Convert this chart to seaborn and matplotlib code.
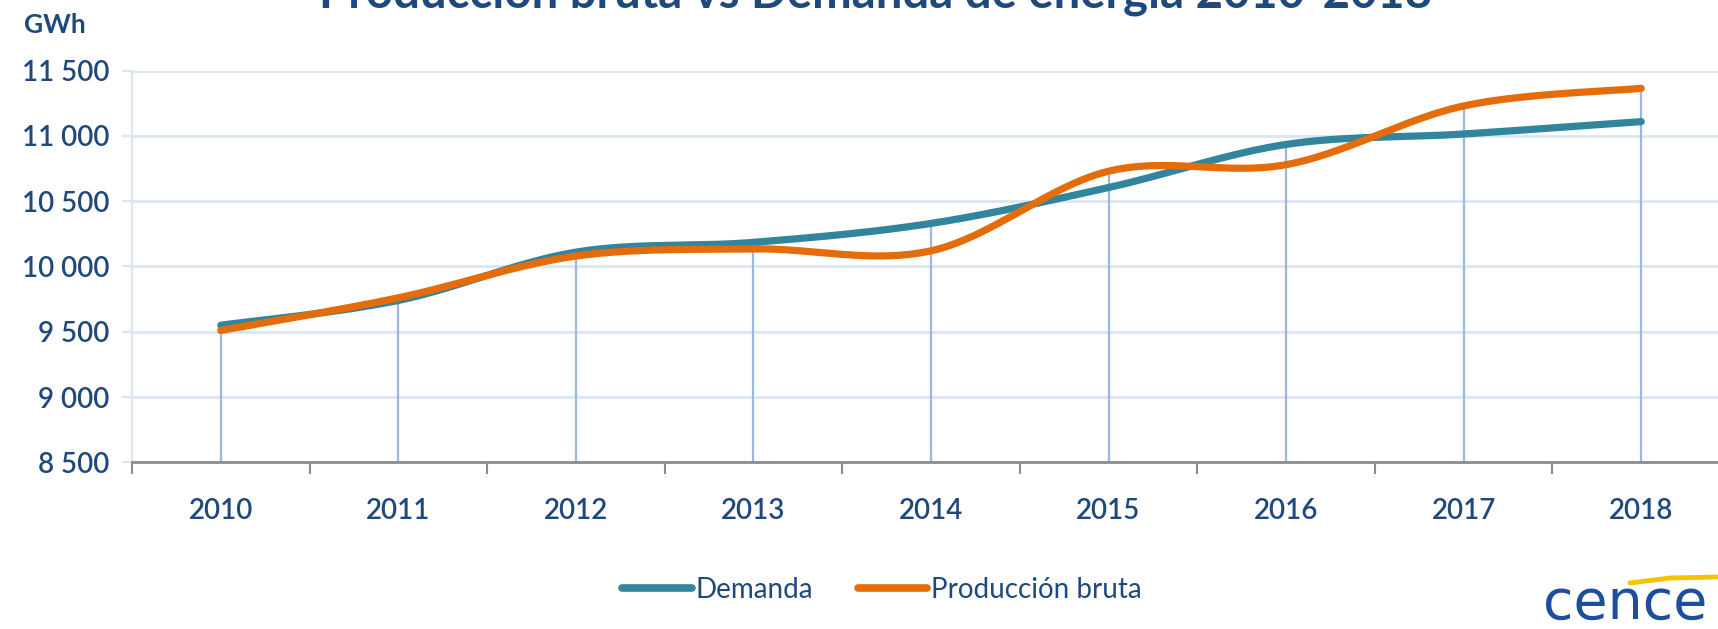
import numpy as np
import pandas as pd
import matplotlib
matplotlib.use("Agg")
import matplotlib.pyplot as plt
from matplotlib.lines import Line2D
from matplotlib.ticker import FuncFormatter
import seaborn as sns

years = ["2010", "2011", "2012", "2013", "2014", "2015", "2016", "2017", "2018"]
demanda = [9550, 9740, 10110, 10185, 10330, 10605, 10935, 11015, 11110]
produccion = [9510, 9760, 10080, 10135, 10120, 10730, 10780, 11230, 11365]
yticks = [8500, 9000, 9500, 10000, 10500, 11000, 11500]

TEXT = "#1F497D"
TEAL = "#31859C"
ORANGE = "#E46C0A"
GRID = "#DCE6F2"
DROP = "#9BB7DD"


def smooth(xv, yv, n=40):
    # Excel-like smoothed line (Catmull-Rom)
    p = np.column_stack([xv, yv]).astype(float)
    p = np.vstack([p[0], p, p[-1]])
    out = []
    t = np.linspace(0, 1, n)[:, None]
    for i in range(1, len(p) - 2):
        p0, p1, p2, p3 = p[i - 1], p[i], p[i + 1], p[i + 2]
        seg = 0.5 * (2 * p1 + (-p0 + p2) * t + (2 * p0 - 5 * p1 + 4 * p2 - p3) * t ** 2
                     + (-p0 + 3 * p1 - 3 * p2 + p3) * t ** 3)
        out.append(seg if i == 1 else seg[1:])
    out = np.vstack(out)
    return out[:, 0], out[:, 1]


sns.set_theme(style="white")
plt.rcParams["font.family"] = ["Lato", "DejaVu Sans"]

fig = plt.figure(figsize=(17.18, 6.29), dpi=100)
ax = fig.add_axes([132 / 1718, (629 - 462.3) / 629, 1598 / 1718, 391.6 / 629])

x = np.arange(len(years))
df = pd.DataFrame({"x": x, "Demanda": demanda, "Producción bruta": produccion})

# drop lines
ax.vlines(x, 8500, df[["Demanda", "Producción bruta"]].max(axis=1), color=DROP, lw=1.6, zorder=1.5)

for col, color in [("Demanda", TEAL), ("Producción bruta", ORANGE)]:
    sx, sy = smooth(df["x"], df[col])
    sns.lineplot(x=sx, y=sy, ax=ax, color=color, lw=5.2, sort=False, estimator=None,
                 solid_capstyle="round", zorder=3)

ax.set_xlim(-0.5, len(years) - 0.5)
ax.set_ylim(8500, 11500)
ax.set_yticks(yticks)
ax.yaxis.set_major_formatter(FuncFormatter(lambda v, _: f"{v:,.0f}".replace(",", " ")))
ax.set_xticks(x)
ax.set_xticklabels(years)
ax.set_xticks(np.arange(-0.5, len(years) + 0.5, 1), minor=True)
ax.set_xlabel("")
ax.set_ylabel("")

ax.grid(axis="y", color=GRID, lw=2)
ax.grid(axis="x", visible=False)
for s in ["top", "right"]:
    ax.spines[s].set_visible(False)
ax.spines["left"].set_color(GRID)
ax.spines["left"].set_linewidth(1.6)
ax.spines["bottom"].set_color("#8C8C8C")
ax.spines["bottom"].set_linewidth(2)
ax.spines["bottom"].set_zorder(4)

ax.tick_params(axis="y", which="major", length=7, width=1.6, color=GRID, pad=9,
               labelsize=20, labelcolor=TEXT, left=True)
ax.tick_params(axis="x", which="major", length=0, pad=26, labelsize=20, labelcolor=TEXT)
ax.tick_params(axis="x", which="minor", length=8.5, width=1.5, color="#8C8C8C",
               direction="out", bottom=True)
for lbl in ax.get_xticklabels() + ax.get_yticklabels():
    lbl.set_fontweight("semibold")

fig.text(55 / 1718, 1 - 25 / 629, "GWh", ha="center", va="center", fontsize=19,
         fontweight="bold", color=TEXT)
fig.text(876 / 1718, 1 - 7 / 629, "Producción bruta vs Demanda de energía 2010-2018",
         ha="center", va="baseline", fontsize=34, fontweight="bold", color=TEXT)

handles = [Line2D([], [], color=TEAL, lw=5.5, solid_capstyle="round"),
           Line2D([], [], color=ORANGE, lw=5.5, solid_capstyle="round")]
leg = fig.legend(handles, ["Demanda", "Producción bruta"], loc="center",
                 bbox_to_anchor=(882 / 1718, 1 - 590 / 629), ncol=2, frameon=False,
                 fontsize=20, handlelength=2.5, handletextpad=0.15, columnspacing=1.6)
for t in leg.get_texts():
    t.set_color(TEXT)

# logo
fig.text(1543 / 1718, 1 - 604 / 629, "cence", ha="left", va="center", fontsize=40,
         color="#1F4E9A", family="DejaVu Sans")
fig.add_artist(Line2D([1630 / 1718, 1670 / 1718, 1718 / 1718],
                      [1 - 583 / 629, 1 - 578 / 629, 1 - 577 / 629],
                      transform=fig.transFigure, color="#F5C400", lw=3.5))

fig.savefig("out.png", dpi=100)
